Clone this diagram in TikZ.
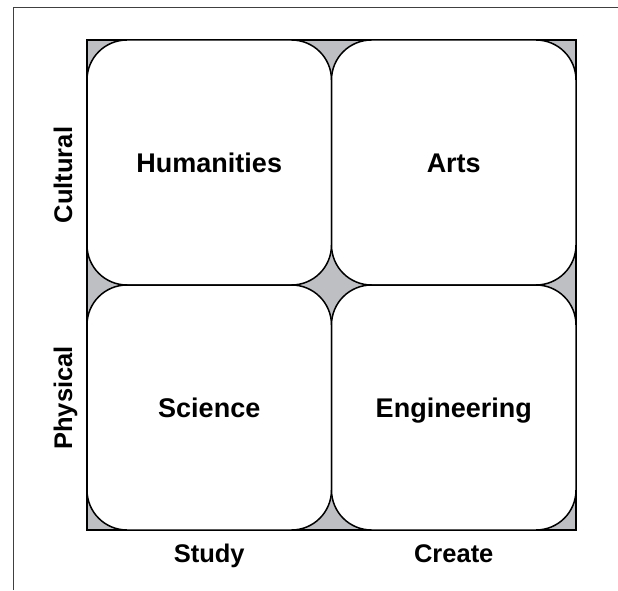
\documentclass[tikz,border=0pt]{standalone}
\usepackage{fontspec}
\setmainfont{Liberation Sans}
\definecolor{panelgray}{RGB}{190,191,195}
\tikzset{
    cell/.style={
        draw, fill=white, rectangle, rounded corners=40pt,
        line width=1.5pt, % same weight as the outer frame
        minimum width=244.5pt, minimum height=245pt,
        text height=19.4pt, text depth=0pt, % keeps every word on the same line
        font=\fontsize{27}{30}\selectfont\bfseries
    },
    axis label/.style={
        inner sep=0pt, text height=18.3pt, text depth=0pt,
        font=\fontsize{25.5}{28}\selectfont\bfseries
    }
}

\begin{document}
\begin{tikzpicture}[x=1pt,y=1pt]
\useasboundingbox (0,0) rectangle (618,590);
\draw[line width=0.8pt, black!75] (13,0) -- (13,583) -- (618,583);
\draw[line width=1.5pt, fill=panelgray] (87,60) rectangle (576,550);
\node[cell] (H) at (209.25,427.5) {Humanities};
\node[cell] (A) at (453.75,427.5) {Arts};
\node[cell] (S) at (209.25,182.5) {Science};
\node[cell] (E) at (453.75,182.5) {Engineering};
\node[axis label, rotate=90] (C) at (63,415) {Cultural};
\node[axis label, rotate=90] (P) at (63,192) {Physical};
\node[axis label] (St) at (209.25,36.5) {Study};
\node[axis label] (Cr) at (453.75,36.5) {Create};
\end{tikzpicture}
\end{document}
